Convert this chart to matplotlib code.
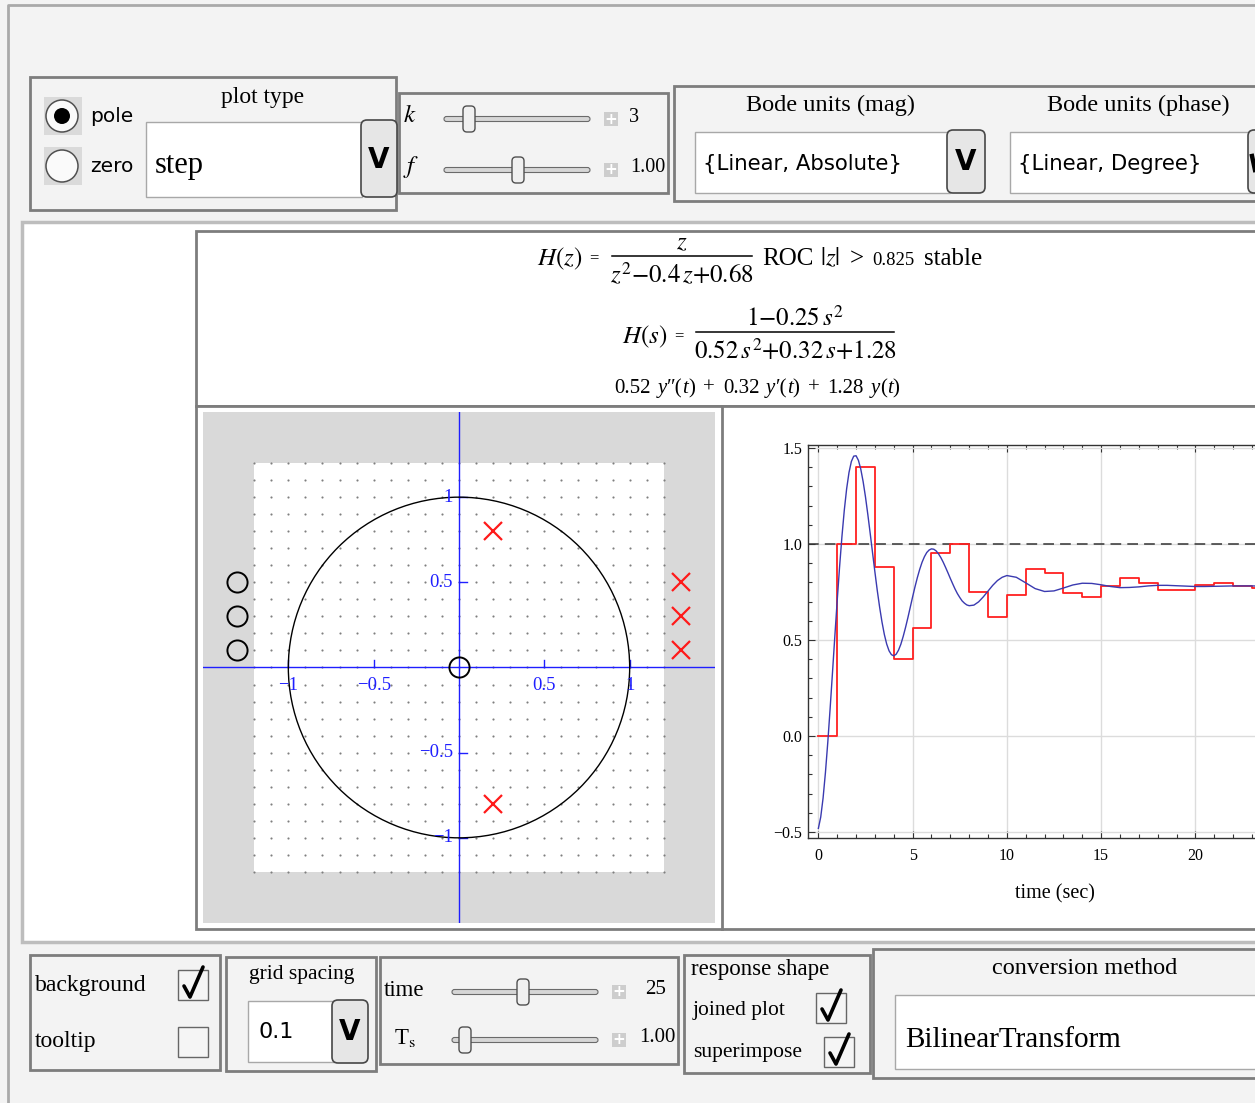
import matplotlib
matplotlib.use('Agg')
import matplotlib.pyplot as plt
import numpy as np
from matplotlib.patches import Rectangle, FancyBboxPatch, Circle
from matplotlib.ticker import MultipleLocator, FuncFormatter

W, H = 1255, 1103
plt.rcParams['font.family'] = ['Liberation Serif', 'DejaVu Serif']
plt.rcParams['mathtext.fontset'] = 'stix'

# ---------------- data ----------------
# continuous-time step response (blue)
t_cont = [0, 0.125, 0.25, 0.375, 0.5, 0.625, 0.75, 0.875, 1.0, 1.125, 1.25, 1.375, 1.5,
          1.625, 1.75, 1.875, 2.0, 2.125, 2.25, 2.375, 2.5, 2.625, 2.75, 2.875, 3.0,
          3.125, 3.25, 3.375, 3.5, 3.625, 3.75, 3.875, 4.0, 4.125, 4.25, 4.375, 4.5,
          4.625, 4.75, 4.875, 5.0, 5.125, 5.25, 5.375, 5.5, 5.625, 5.75, 5.875, 6.0,
          6.125, 6.25, 6.375, 6.5, 6.625, 6.75, 6.875, 7.0, 7.125, 7.25, 7.375, 7.5,
          7.625, 7.75, 7.875, 8.0, 8.25, 8.5, 8.75, 9.0, 9.25, 9.5, 9.75, 10.0,
          10.5, 11, 11.5, 12, 12.5, 13, 13.5, 14, 14.5, 15, 15.5, 16, 16.5, 17, 17.5,
          18, 18.5, 19, 19.5, 20, 20.5, 21, 21.5, 22, 22.5, 23, 23.5, 24, 24.5, 25]
y_cont = [-0.481, -0.422, -0.323, -0.190, -0.032, 0.145, 0.332, 0.522, 0.707, 0.881,
          1.039, 1.176, 1.288, 1.373, 1.430, 1.458, 1.460, 1.436, 1.390, 1.325, 1.245,
          1.153, 1.055, 0.954, 0.854, 0.758, 0.671, 0.594, 0.529, 0.479, 0.444, 0.424,
          0.418, 0.426, 0.447, 0.478, 0.519, 0.566, 0.617, 0.671, 0.725, 0.777, 0.825,
          0.868, 0.905, 0.934, 0.956, 0.969, 0.975, 0.973, 0.964, 0.949, 0.929, 0.905,
          0.878, 0.850, 0.821, 0.793, 0.766, 0.742, 0.722, 0.704, 0.692, 0.683,
          0.679, 0.682, 0.699, 0.725, 0.755, 0.785, 0.810, 0.827, 0.836,
          0.827, 0.798, 0.768, 0.753, 0.756, 0.771, 0.787, 0.796, 0.795, 0.788, 0.779,
          0.773, 0.774, 0.777, 0.782, 0.785, 0.785, 0.783, 0.781, 0.779, 0.779, 0.780,
          0.781, 0.782, 0.782, 0.782, 0.781, 0.781, 0.781, 0.781]
# discrete step response (red staircase)
n_disc = list(range(0, 26))
y_disc = [0.0, 1.0, 1.4, 0.88, 0.40, 0.562, 0.953, 0.999, 0.752, 0.621, 0.737, 0.872,
          0.848, 0.746, 0.722, 0.782, 0.822, 0.797, 0.760, 0.762, 0.788, 0.797, 0.783,
          0.771, 0.776, 0.786]
ref_level = 1.0

# pole-zero map
poles_re = [0.2, 0.2]
poles_im = [0.8, -0.8]
zeros_re = [0.0]
zeros_im = [0.0]
palette_rows = [0.5, 0.3, 0.1]
palette_zero_x = -1.3
palette_pole_x = 1.3
grid_spacing = 0.1
grid_half = 1.2
pz_ticks = [-1, -0.5, 0.5, 1]
pz_ticklabels = ['\u22121', '\u22120.5', '0.5', '1']

# ---------------- figure ----------------
fig = plt.figure(figsize=(W / 100, H / 100), dpi=100)
fig.patch.set_facecolor('#f3f3f3')
bg = fig.add_axes([0, 0, 1, 1])
bg.set_xlim(0, W)
bg.set_ylim(H, 0)
bg.axis('off')
R = fig.canvas.get_renderer()


def rect(x0, y0, x1, y1, fc='none', ec='none', lw=1.0, z=1):
    bg.add_patch(Rectangle((x0, y0), x1 - x0, y1 - y0, fc=fc, ec=ec, lw=lw, zorder=z))


def rrect(x0, y0, x1, y1, r, fc, ec, lw=1.0, z=2):
    bg.add_patch(FancyBboxPatch((x0, y0), x1 - x0, y1 - y0,
                                boxstyle=f'round,pad=0,rounding_size={r}',
                                fc=fc, ec=ec, lw=lw, zorder=z))


def txt(x, y, s, size, ha='left', va='center', z=5, **kw):
    return bg.text(x, y, s, fontsize=size, ha=ha, va=va, zorder=z, **kw)


def panel(x0, y0, x1, y1):
    rect(x0, y0, x1, y1, fc='#f3f3f3', ec='#7d7d7d', lw=2, z=1)


def popup(x0, y0, x1, y1):
    rect(x0, y0, x1, y1, fc='white', ec='#a8a8a8', lw=1, z=2)


def dropbtn(x0, y0, x1, y1):
    rrect(x0, y0, x1, y1, 6, '#e6e6e6', '#474747', 1.2, z=3)
    txt((x0 + x1) / 2, (y0 + y1) / 2 + 1, 'V', 20, ha='center', fontweight='bold',
        family='DejaVu Sans', z=4)


def slider(x0, x1, y, tx, px):
    rrect(x0, y - 2.5, x1, y + 2.5, 2.5, '#d6d6d6', '#6a6a6a', 0.8, z=2)
    rrect(tx - 6, y - 13, tx + 6, y + 13, 4, '#f0f0f0', '#505050', 1.0, z=3)
    rect(px - 7, y - 7, px + 7, y + 7, fc='#cdcdcd', z=2)
    txt(px, y, '+', 11, ha='center', color='white', fontweight='bold', family='DejaVu Sans')


def checkbox(x0, y0, checked):
    rect(x0, y0, x0 + 30, y0 + 30, fc='#f5f5f5', ec='#666666', lw=1, z=2)
    if checked:
        bg.plot([x0 + 6, x0 + 12, x0 + 25], [y0 + 16, y0 + 27, y0 - 3], color='black',
                lw=2.6, solid_capstyle='round', solid_joinstyle='round', zorder=4)


def radio(cx, cy, selected):
    rect(cx - 18, cy - 19, cx + 20, cy + 19, fc='#dadada', z=2)
    bg.add_patch(Circle((cx, cy), 16, fc='#fafafa', ec='#505050', lw=1.1, zorder=3))
    if selected:
        bg.add_patch(Circle((cx, cy), 8, fc='black', ec='none', zorder=4))


def seq(x, y, parts):
    """parts: (text, size, kwargs, gap_after_px)"""
    for s, size, kw, gap in parts:
        t = txt(x, y, s, size, va='baseline', **kw)
        x += t.get_window_extent(renderer=R).width + gap
    return x


# outer frame
bg.plot([8, 8, W + 5], [H + 5, 5, 5], color='#a9a9a9', lw=2, zorder=1)

# ---------------- top controls ----------------
panel(30, 77, 396, 210)
radio(62, 116, True)
radio(62, 166, False)
txt(90, 117, 'pole', 14.5, family='DejaVu Sans')
txt(90, 167, 'zero', 14.5, family='DejaVu Sans')
txt(263, 97, 'plot type', 17, ha='center')
popup(146, 122, 362, 197)
txt(155, 166, 'step', 22)
dropbtn(361, 120, 397, 197)

panel(399, 93, 668, 193)
txt(410, 116, r'$k$', 18, ha='center')
slider(444, 590, 119, 469, 611)
txt(634, 118, '3', 14.5, ha='center')
txt(411, 167, r'$f$', 18, ha='center')
slider(444, 590, 170, 518, 611)
txt(648, 168, '1.00', 14.5, ha='center')

panel(674, 86, 1270, 201)
txt(831, 105, 'Bode units (mag)', 17.5, ha='center')
txt(1138, 105, 'Bode units (phase)', 17.5, ha='center')
popup(695, 132, 950, 193)
txt(703, 164, '{Linear, Absolute}', 15.3, family='DejaVu Sans')
dropbtn(947, 130, 985, 193)
popup(1010, 132, 1262, 193)
txt(1018, 164, '{Linear, Degree}', 15.3, family='DejaVu Sans')
rrect(1248, 130, 1286, 193, 6, '#e6e6e6', '#474747', 1.2, z=3)
bg.plot([1252, 1255], [156, 170], color='black', lw=3.2, zorder=4)

# ---------------- main output panel ----------------
rect(22, 222, 1275, 942, fc='white', ec='#bdbdbd', lw=2.5, z=1)
rect(196, 231, 1275, 406, fc='white', ec='#7d7d7d', lw=2, z=2)
rect(196, 406, 1275, 929, fc='white', ec='#7d7d7d', lw=2, z=2)
bg.plot([722, 722], [406, 929], color='#7d7d7d', lw=2, zorder=3)

# formulas
BASE1 = 265
txt(537, BASE1, r'$H(z)$', 18, va='baseline')
txt(589, BASE1 - 3, '=', 12, va='baseline')
bg.plot([612, 752], [256, 256], color='black', lw=1.1, zorder=5)
txt(682, 249, r'$z$', 18, ha='center', va='baseline')
txt(682, 283, r'$z^2{-}0.4\,z{+}0.68$', 18, ha='center', va='baseline')
seq(762, BASE1, [('ROC', 18, {}, 7), (r'$|z|$', 18, {}, 9), ('>', 18, {}, 9),
                 ('0.825', 13.5, {}, 9), ('stable', 18, {}, 0)])

BASE2 = 343
txt(622, BASE2, r'$H(s)$', 18, va='baseline')
txt(674, BASE2 - 3, '=', 12, va='baseline')
bg.plot([696, 894], [332, 332], color='black', lw=1.1, zorder=5)
txt(795, 326, r'$1{-}0.25\,s^2$', 18, ha='center', va='baseline')
txt(795, 359, r'$0.52\,s^2{+}0.32\,s{+}1.28$', 18, ha='center', va='baseline')
it = {'style': 'italic'}
F = 15
seq(614, 393, [('0.52', F, {}, 7), ('y', F, it, 0), ('\u2033(', F, {}, 0), ('t', F, it, 0),
               (')', F, {}, 8), ('+', F, {}, 8), ('0.32', F, {}, 7), ('y', F, it, 0),
               ('\u2032(', F, {}, 0), ('t', F, it, 0), (')', F, {}, 8), ('+', F, {}, 8),
               ('1.28', F, {}, 7), ('y', F, it, 0), ('(', F, {}, 0),
               ('t', F, it, 0), (')', F, {}, 0)])

# ---------------- pole-zero axes ----------------
axpz = fig.add_axes([203 / W, 1 - 923 / H, 512 / W, 511 / H], zorder=5)
axpz.set_xlim(-1.5, 1.5)
axpz.set_ylim(-1.5, 1.5)
axpz.set_facecolor('#d9d9d9')
for s in axpz.spines.values():
    s.set_visible(False)
axpz.set_xticks([])
axpz.set_yticks([])
axpz.add_patch(Rectangle((-grid_half, -grid_half), 2 * grid_half, 2 * grid_half,
                         fc='white', ec='none', zorder=0))
gv = np.round(np.arange(-grid_half, grid_half + grid_spacing / 2, grid_spacing), 3)
GX, GY = np.meshgrid(gv, gv)
axpz.scatter(GX.ravel(), GY.ravel(), s=2.4, c='#7f7f7f', lw=0, zorder=1)
axpz.add_patch(Circle((0, 0), 1, fill=False, ec='black', lw=1.0, zorder=3))
blue = '#1f1fff'
axpz.axhline(0, color=blue, lw=1.0, zorder=2)
axpz.axvline(0, color=blue, lw=1.0, zorder=2)
tl = 0.045
for v, lab in zip(pz_ticks, pz_ticklabels):
    axpz.plot([v, v], [0, tl], color=blue, lw=1.0, zorder=2)
    axpz.text(v, -0.105, lab, color=blue, fontsize=13.5, ha='center', va='center', zorder=4)
    axpz.plot([0, tl], [v, v], color=blue, lw=1.0, zorder=2)
    axpz.text(-0.035, v, lab, color=blue, fontsize=13.5, ha='right', va='center', zorder=4)
axpz.plot(zeros_re, zeros_im, 'o', ms=14.5, mfc='none', mec='black', mew=1.4, zorder=5)
axpz.plot(poles_re, poles_im, 'x', ms=12.5, mec='#ff1a1a', mew=1.6, zorder=5)
axpz.plot([palette_zero_x] * len(palette_rows), palette_rows, 'o', ms=14.5, mfc='none',
          mec='black', mew=1.4, zorder=5)
axpz.plot([palette_pole_x] * len(palette_rows), palette_rows, 'x', ms=12.5,
          mec='#ff1a1a', mew=1.6, zorder=5)

# ---------------- step response axes ----------------
axs = fig.add_axes([808 / W, 1 - 838 / H, (1300 - 808) / W, (838 - 445) / H], zorder=5)
axs.set_xlim(-0.55, 25.55)
axs.set_ylim(-0.531, 1.516)
axs.set_facecolor('white')
axs.xaxis.set_major_locator(MultipleLocator(5))
axs.xaxis.set_minor_locator(MultipleLocator(1))
axs.yaxis.set_major_locator(MultipleLocator(0.5))
axs.yaxis.set_minor_locator(MultipleLocator(0.1))
axs.yaxis.set_major_formatter(FuncFormatter(lambda v, p: f'{v:.1f}'.replace('-', '\u2212')))
axs.xaxis.set_major_formatter(FuncFormatter(lambda v, p: f'{v:.0f}' if v < 22 else ''))
axs.tick_params(which='both', direction='in', top=True, right=True, color='#333333',
                labelsize=11.5, width=0.8)
axs.tick_params(which='major', length=5)
axs.tick_params(which='minor', length=3)
axs.tick_params(axis='y', pad=4)
axs.tick_params(axis='x', pad=7)
axs.grid(True, which='major', color='#dcdcdc', lw=1.0)
axs.set_axisbelow(True)
for s in axs.spines.values():
    s.set_color('#333333')
    s.set_linewidth(1.0)
axs.axhline(ref_level, color='#333333', lw=1.1, ls=(0, (7, 4)), zorder=2)
axs.plot(n_disc, y_disc, drawstyle='steps-post', color='#ff2020', lw=1.3, zorder=3)
axs.plot(t_cont, y_cont, color='#3a3ab0', lw=1.0, zorder=4)
txt(1055, 894, 'time (sec)', 14.5, ha='center')

# ---------------- bottom controls ----------------
panel(30, 955, 220, 1070)
txt(35, 985, 'background', 17)
checkbox(178, 970, True)
txt(35, 1042, 'tooltip', 17)
checkbox(178, 1027, False)

panel(226, 957, 376, 1071)
txt(302, 975, 'grid spacing', 15.5, ha='center')
popup(248, 1001, 335, 1062)
txt(258, 1032, '0.1', 16, family='DejaVu Sans')
dropbtn(332, 1000, 368, 1063)

panel(380, 957, 678, 1064)
txt(384, 990, 'time', 16.5)
slider(452, 598, 992, 523, 619)
txt(656, 990, '25', 15, ha='center')
txt(394, 1038, r'T$_{\rm s}$', 16.5)
slider(452, 598, 1040, 465, 619)
txt(657, 1038, '1.00', 15, ha='center')

panel(684, 955, 870, 1073)
txt(691, 970, 'response shape', 16.5)
txt(693, 1010, 'joined plot', 15.5)
checkbox(816, 993, True)
txt(693, 1053, 'superimpose', 15.5)
checkbox(824, 1037, True)

panel(873, 949, 1270, 1078)
txt(1085, 968, 'conversion method', 17.5, ha='center')
popup(895, 995, 1265, 1069)
txt(905, 1040, 'BilinearTransform', 21)

fig.savefig('out.png', dpi=100, facecolor=fig.get_facecolor())
